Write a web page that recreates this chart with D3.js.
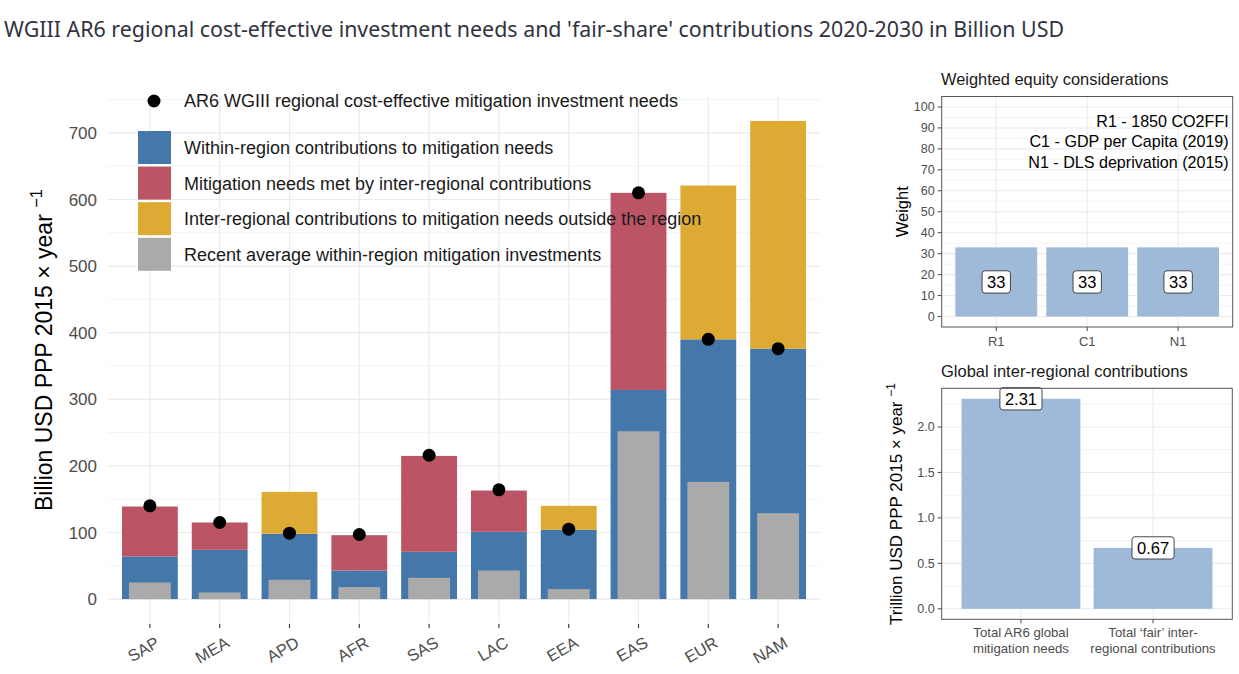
<!DOCTYPE html>
<html>
<head>
<meta charset="utf-8">
<script src="https://cdn.jsdelivr.net/npm/d3@7"></script>
<style>
  body { margin: 0; background: #fff; }
  svg { display: block; }
</style>
</head>
<body>
<svg id="chart" width="1239" height="674"></svg>
<script>
// ---- data ----
const regions = ["SAP", "MEA", "APD", "AFR", "SAS", "LAC", "EEA", "EAS", "EUR", "NAM"];
const withinRegion = [64, 74, 98, 43, 71, 101, 104, 314, 390, 376];
const metByInter = [75, 41, 0, 53, 144, 62, 0, 296, 0, 0];
const interOutside = [0, 0, 63, 0, 0, 0, 36, 0, 231, 342];
const recentInvest = [25, 10, 29, 18, 32, 43, 15, 252, 176, 129];
const costEffectiveNeeds = [140, 115, 99, 97, 216, 164, 105, 610, 390, 376];

const equityCats = ["R1", "C1", "N1"];
const equityWeights = [33, 33, 33];
const equityNotes = ["R1 - 1850 CO2FFI", "C1 - GDP per Capita (2019)", "N1 - DLS deprivation (2015)"];

const globalCats = [["Total AR6 global", "mitigation needs"], ["Total \u2018fair\u2019 inter-", "regional contributions"]];
const globalValues = [2.31, 0.67];

const legendLabels = [
    "Within-region contributions to mitigation needs",
    "Mitigation needs met by inter-regional contributions",
    "Inter-regional contributions to mitigation needs outside the region",
    "Recent average within-region mitigation investments"
];
const colors = ["#4477AA", "#BB5566", "#DDAA33", "#AAAAAA"];
const lightBlue = "#9FBAD9";
const grid = "#EBEBEB";
const axisText = "#4D4D4D";
const font = "'Liberation Sans', Arial, sans-serif";

const svg = d3.select("#chart");

// title
svg.append("text")
    .attr("x", 4).attr("y", 37)
    .attr("font-family", "'Noto Sans', 'Open Sans', sans-serif")
    .attr("font-size", 21.4)
    .attr("fill", "#31333F")
    .text("WGIII AR6 regional cost-effective investment needs and 'fair-share' contributions 2020-2030 in Billion USD");

// ---------- main chart ----------
const totals = regions.map((r, i) => withinRegion[i] + metByInter[i] + interOutside[i]);
const yMax = d3.max(totals);
const x = d3.scalePoint().domain(regions).range([108, 820]).padding(0.6);
const y = d3.scaleLinear().domain([-yMax * 0.05, yMax * 1.05]).range([623, 97]);
const step = x.step();

const main = svg.append("g");

// minor + major gridlines
d3.range(50, 800, 100).forEach(v => {
    main.append("line").attr("x1", 108).attr("x2", 820)
        .attr("y1", y(v)).attr("y2", y(v))
        .attr("stroke", grid).attr("stroke-width", 0.6);
});
d3.range(0, 800, 100).forEach(v => {
    main.append("line").attr("x1", 108).attr("x2", 820)
        .attr("y1", y(v)).attr("y2", y(v))
        .attr("stroke", grid).attr("stroke-width", 1.2);
});
regions.forEach(r => {
    main.append("line").attr("x1", x(r)).attr("x2", x(r))
        .attr("y1", 97).attr("y2", 623)
        .attr("stroke", grid).attr("stroke-width", 1.2);
});

const bw = step * 0.8;
const gw = step * 0.6;

// blue base
main.selectAll(".within").data(regions).enter().append("rect")
    .attr("x", d => x(d) - bw / 2)
    .attr("width", bw)
    .attr("y", (d, i) => y(withinRegion[i]))
    .attr("height", (d, i) => y(0) - y(withinRegion[i]))
    .attr("fill", colors[0]);

// red on top of blue
main.selectAll(".met").data(regions).enter().append("rect")
    .attr("x", d => x(d) - bw / 2)
    .attr("width", bw)
    .attr("y", (d, i) => y(withinRegion[i] + metByInter[i]))
    .attr("height", (d, i) => y(withinRegion[i]) - y(withinRegion[i] + metByInter[i]))
    .attr("fill", colors[1]);

// gold on top of blue
main.selectAll(".outside").data(regions).enter().append("rect")
    .attr("x", d => x(d) - bw / 2)
    .attr("width", bw)
    .attr("y", (d, i) => y(withinRegion[i] + interOutside[i]))
    .attr("height", (d, i) => y(withinRegion[i]) - y(withinRegion[i] + interOutside[i]))
    .attr("fill", colors[2]);

// gray recent investments
main.selectAll(".recent").data(regions).enter().append("rect")
    .attr("x", d => x(d) - gw / 2)
    .attr("width", gw)
    .attr("y", (d, i) => y(recentInvest[i]))
    .attr("height", (d, i) => y(0) - y(recentInvest[i]))
    .attr("fill", colors[3]);

// needs dots
main.selectAll(".need").data(regions).enter().append("circle")
    .attr("cx", d => x(d))
    .attr("cy", (d, i) => y(costEffectiveNeeds[i]))
    .attr("r", 6.5)
    .attr("fill", "#000");

// y axis labels
d3.range(0, 800, 100).forEach(v => {
    main.append("text").attr("x", 97).attr("y", y(v)).attr("dy", "0.36em")
        .attr("text-anchor", "end")
        .attr("font-family", font).attr("font-size", 17).attr("fill", axisText)
        .text(v);
});

// x ticks and rotated labels
regions.forEach(r => {
    main.append("line").attr("x1", x(r)).attr("x2", x(r))
        .attr("y1", 624).attr("y2", 628)
        .attr("stroke", "#333").attr("stroke-width", 1.1);
    main.append("text")
        .attr("transform", `translate(${x(r) + 5},${636}) rotate(-30)`)
        .attr("text-anchor", "end").attr("dy", "0.7em")
        .attr("font-family", font).attr("font-size", 16.5).attr("fill", axisText)
        .text(r);
});

// y axis title
const yt = main.append("text")
    .attr("transform", `translate(52,${350}) rotate(-90)`)
    .attr("text-anchor", "middle")
    .attr("font-family", font).attr("font-size", 23).attr("fill", "#000");
yt.append("tspan").text("Billion USD PPP 2015 \u00d7 year ");
yt.append("tspan").attr("dy", -10).attr("font-size", 16.5).text("\u22121");

// legend
const leg = main.append("g");
leg.append("circle").attr("cx", 154).attr("cy", 101).attr("r", 6.5).attr("fill", "#000");
leg.append("text").attr("x", 184).attr("y", 101).attr("dy", "0.36em")
    .attr("font-family", font).attr("font-size", 18).attr("fill", "#1a1a1a")
    .text("AR6 WGIII regional cost-effective mitigation investment needs");
legendLabels.forEach((l, i) => {
    const top = 131 + i * 35.6;
    leg.append("rect").attr("x", 138).attr("y", top).attr("width", 33).attr("height", 33)
        .attr("fill", colors[i]);
    leg.append("text").attr("x", 184).attr("y", top + 16.5).attr("dy", "0.36em")
        .attr("font-family", font).attr("font-size", 18).attr("fill", "#1a1a1a")
        .text(l);
});

// ---------- helper for bw panels ----------
function labelBox(g, cx, cy, txt, size) {
    const t = g.append("text").attr("x", cx).attr("y", cy).attr("dy", "0.36em")
        .attr("text-anchor", "middle")
        .attr("font-family", font).attr("font-size", size).attr("fill", "#000")
        .text(txt);
    const w = t.node().getComputedTextLength();
    const h = size * 1.35;
    g.insert("rect", () => t.node())
        .attr("x", cx - w / 2 - 5).attr("y", cy - h / 2)
        .attr("width", w + 10).attr("height", h)
        .attr("rx", 3).attr("fill", "#fff")
        .attr("stroke", "#333").attr("stroke-width", 0.9);
}

// ---------- top right: weighted equity ----------
const p1 = { l: 941.7, r: 1232.7, t: 96.5, b: 327 };
const x1 = d3.scalePoint().domain(equityCats).range([p1.l, p1.r]).padding(0.6);
const y1 = d3.scaleLinear().domain([-5, 105]).range([p1.b, p1.t]);
const g1 = svg.append("g");

svg.append("text").attr("x", 941).attr("y", 79).attr("dy", "0.36em")
    .attr("font-family", font).attr("font-size", 16.4).attr("fill", "#1a1a1a")
    .text("Weighted equity considerations");

d3.range(5, 105, 10).forEach(v => {
    g1.append("line").attr("x1", p1.l).attr("x2", p1.r).attr("y1", y1(v)).attr("y2", y1(v))
        .attr("stroke", grid).attr("stroke-width", 0.6);
});
d3.range(0, 101, 10).forEach(v => {
    g1.append("line").attr("x1", p1.l).attr("x2", p1.r).attr("y1", y1(v)).attr("y2", y1(v))
        .attr("stroke", grid).attr("stroke-width", 1.1);
    g1.append("line").attr("x1", p1.l - 4).attr("x2", p1.l).attr("y1", y1(v)).attr("y2", y1(v))
        .attr("stroke", "#333").attr("stroke-width", 0.9);
    g1.append("text").attr("x", p1.l - 7).attr("y", y1(v)).attr("dy", "0.36em")
        .attr("text-anchor", "end")
        .attr("font-family", font).attr("font-size", 12.5).attr("fill", axisText)
        .text(v);
});
equityCats.forEach(c => {
    g1.append("line").attr("x1", x1(c)).attr("x2", x1(c)).attr("y1", p1.t).attr("y2", p1.b)
        .attr("stroke", grid).attr("stroke-width", 1.1);
    g1.append("line").attr("x1", x1(c)).attr("x2", x1(c)).attr("y1", p1.b).attr("y2", p1.b + 4)
        .attr("stroke", "#333").attr("stroke-width", 0.9);
    g1.append("text").attr("x", x1(c)).attr("y", p1.b + 14).attr("dy", "0.36em")
        .attr("text-anchor", "middle")
        .attr("font-family", font).attr("font-size", 13).attr("fill", axisText)
        .text(c);
});
const bw1 = x1.step() * 0.9;
g1.selectAll(".eq").data(equityCats).enter().append("rect")
    .attr("x", d => x1(d) - bw1 / 2).attr("width", bw1)
    .attr("y", (d, i) => y1(equityWeights[i]))
    .attr("height", (d, i) => y1(0) - y1(equityWeights[i]))
    .attr("fill", lightBlue);
equityCats.forEach((c, i) => labelBox(g1, x1(c), y1(equityWeights[i] / 2), equityWeights[i], 16.5));
equityNotes.forEach((n, i) => {
    g1.append("text").attr("x", p1.r - 4).attr("y", 121 + i * 20.4).attr("dy", "0.36em")
        .attr("text-anchor", "end")
        .attr("font-family", font).attr("font-size", 16.1).attr("fill", "#000")
        .text(n);
});
g1.append("rect").attr("x", p1.l).attr("y", p1.t).attr("width", p1.r - p1.l).attr("height", p1.b - p1.t)
    .attr("fill", "none").attr("stroke", "#555").attr("stroke-width", 1);
g1.append("text")
    .attr("transform", `translate(${902},${(p1.t + p1.b) / 2}) rotate(-90)`)
    .attr("text-anchor", "middle").attr("dy", "0.36em")
    .attr("font-family", font).attr("font-size", 16.5).attr("fill", "#000")
    .text("Weight");

// ---------- bottom right: global contributions ----------
const p2 = { l: 941.7, r: 1232.3, t: 388.3, b: 619.3 };
const gMax = d3.max(globalValues);
const x2 = d3.scalePoint().domain(d3.range(globalCats.length)).range([p2.l, p2.r]).padding(0.6);
const y2 = d3.scaleLinear().domain([-gMax * 0.05, gMax * 1.05]).range([p2.b, p2.t]);
const g2 = svg.append("g");

svg.append("text").attr("x", 941).attr("y", 371).attr("dy", "0.36em")
    .attr("font-family", font).attr("font-size", 16.5).attr("fill", "#1a1a1a")
    .text("Global inter-regional contributions");

[0.25, 0.75, 1.25, 1.75, 2.25].forEach(v => {
    g2.append("line").attr("x1", p2.l).attr("x2", p2.r).attr("y1", y2(v)).attr("y2", y2(v))
        .attr("stroke", grid).attr("stroke-width", 0.6);
});
[0, 0.5, 1, 1.5, 2].forEach(v => {
    g2.append("line").attr("x1", p2.l).attr("x2", p2.r).attr("y1", y2(v)).attr("y2", y2(v))
        .attr("stroke", grid).attr("stroke-width", 1.1);
    g2.append("line").attr("x1", p2.l - 4).attr("x2", p2.l).attr("y1", y2(v)).attr("y2", y2(v))
        .attr("stroke", "#333").attr("stroke-width", 0.9);
    g2.append("text").attr("x", p2.l - 7).attr("y", y2(v)).attr("dy", "0.36em")
        .attr("text-anchor", "end")
        .attr("font-family", font).attr("font-size", 12.5).attr("fill", axisText)
        .text(v.toFixed(1));
});
globalCats.forEach((c, i) => {
    g2.append("line").attr("x1", x2(i)).attr("x2", x2(i)).attr("y1", p2.t).attr("y2", p2.b)
        .attr("stroke", grid).attr("stroke-width", 1.1);
    g2.append("line").attr("x1", x2(i)).attr("x2", x2(i)).attr("y1", p2.b).attr("y2", p2.b + 4)
        .attr("stroke", "#333").attr("stroke-width", 0.9);
    c.forEach((line, j) => {
        g2.append("text").attr("x", x2(i)).attr("y", 632 + j * 16).attr("dy", "0.36em")
            .attr("text-anchor", "middle")
            .attr("font-family", font).attr("font-size", 13.2).attr("fill", axisText)
            .text(line);
    });
});
const bw2 = x2.step() * 0.9;
g2.selectAll(".gl").data(globalValues).enter().append("rect")
    .attr("x", (d, i) => x2(i) - bw2 / 2).attr("width", bw2)
    .attr("y", d => y2(d))
    .attr("height", d => y2(0) - y2(d))
    .attr("fill", lightBlue);
globalValues.forEach((v, i) => labelBox(g2, x2(i), y2(v), v.toFixed(2), 16.5));
g2.append("rect").attr("x", p2.l).attr("y", p2.t).attr("width", p2.r - p2.l).attr("height", p2.b - p2.t)
    .attr("fill", "none").attr("stroke", "#555").attr("stroke-width", 1);
const yt2 = g2.append("text")
    .attr("transform", `translate(${902},${504}) rotate(-90)`)
    .attr("text-anchor", "middle")
    .attr("font-family", font).attr("font-size", 17).attr("fill", "#000");
yt2.append("tspan").text("Trillion USD PPP 2015 \u00d7 year ");
yt2.append("tspan").attr("dy", -7).attr("font-size", 12).text("\u22121");
</script>
</body>
</html>
